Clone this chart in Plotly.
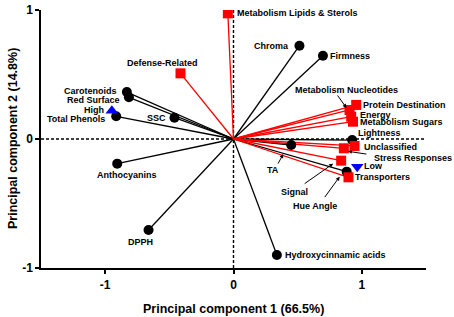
import plotly.graph_objects as go

# ---------------- data ----------------
black_names = ["Chroma", "Firmness", "Carotenoids", "Red Surface", "Total Phenols", "SSC",
               "Anthocyanins", "DPPH", "Hydroxycinnamic acids", "TA", "Lightness", "Hue Angle"]
black_pc1 = [0.514, 0.697, -0.831, -0.815, -0.914, -0.46, -0.906, -0.662, 0.338, 0.45, 0.925, 0.882]
black_pc2 = [0.723, 0.646, 0.364, 0.323, 0.176, 0.165, -0.191, -0.705, -0.899, -0.047, -0.008, -0.253]

red_names = ["Metabolism Lipids & Sterols", "Defense-Related", "Metabolism Nucleotides",
             "Protein Destination", "Energy", "Metabolism Sugars", "Unclassified",
             "Stress Responses", "Signal", "Transporters"]
red_pc1 = [-0.044, -0.413, 0.904, 0.956, 0.917, 0.931, 0.943, 0.86, 0.839, 0.896]
red_pc2 = [0.974, 0.509, 0.225, 0.264, 0.173, 0.134, -0.054, -0.072, -0.168, -0.297]

high_name, high_pc1, high_pc2 = "High", -0.948, 0.219
low_name, low_pc1, low_pc2 = "Low", 0.964, -0.215

x_ticks = [-1, 0, 1]
y_ticks = [-1, 0, 1]
x_title = "Principal component 1 (66.5%)"
y_title = "Principal component 2 (14.8%)"

# ---------------- label placement (pixels) ----------------
# name: (xanchor, xshift, yshift)
label_pos = {
    "Chroma": ("right", -8, 0),
    "Firmness": ("left", 5, 0),
    "Carotenoids": ("right", -8, 1),
    "Red Surface": ("right", -7, -3),
    "Total Phenols": ("right", -9, -3),
    "SSC": ("right", -6, 0),
    "Anthocyanins": ("center", 10, -11),
    "DPPH": ("center", -8, -12),
    "Hydroxycinnamic acids": ("left", 6, 0),
    "TA": ("center", -18, -25),
    "Lightness": ("left", 4, 7),
    "Hue Angle": ("center", -32, -34),
    "Metabolism Lipids & Sterols": ("left", 7, 0),
    "Defense-Related": ("center", -18, 10),
    "Metabolism Nucleotides": ("center", -3, 20),
    "Protein Destination": ("left", 5, 0),
    "Energy": ("left", 7, 2),
    "Metabolism Sugars": ("left", 5, 0),
    "Unclassified": ("left", 7, -1),
    "Stress Responses": ("left", 28, -10),
    "Signal": ("center", -47, -31),
    "Transporters": ("left", 5, 0),
    "High": ("right", -6, 1),
    "Low": ("left", 5, 1),
}
# name: (tip dx, tip dy, tail ax, tail ay) pixel offsets
arrow_pos = {
    "Metabolism Nucleotides": (-3, -2, -10, -14),
    "Stress Responses": (4, 3, 20, 3),
    "TA": (-8, 9, -6, 11),
    "Signal": (-8, 3, -30, 21),
    "Hue Angle": (-7, 5, -16, 22),
}

FONT = "Arial, Liberation Sans, sans-serif"

fig = go.Figure()


def spokes(xs, ys):
    lx, ly = [], []
    for a, b in zip(xs, ys):
        lx += [0, a, None]
        ly += [0, b, None]
    return lx, ly


bx, by = spokes(black_pc1, black_pc2)
rx, ry = spokes(red_pc1, red_pc2)
fig.add_trace(go.Scatter(x=bx, y=by, mode="lines", line=dict(color="black", width=1.3),
                         hoverinfo="skip", showlegend=False))
fig.add_trace(go.Scatter(x=rx, y=ry, mode="lines", line=dict(color="#ff0000", width=1.3),
                         hoverinfo="skip", showlegend=False))
fig.add_trace(go.Scatter(x=black_pc1, y=black_pc2, mode="markers", text=black_names,
                         marker=dict(symbol="circle", size=10, color="black"), showlegend=False))
fig.add_trace(go.Scatter(x=red_pc1, y=red_pc2, mode="markers", text=red_names,
                         marker=dict(symbol="square", size=10, color="#ff0000"), showlegend=False))
fig.add_trace(go.Scatter(x=[high_pc1], y=[high_pc2], mode="markers", text=[high_name],
                         marker=dict(symbol="triangle-up", size=11, color="#0000ff"), showlegend=False))
fig.add_trace(go.Scatter(x=[low_pc1], y=[low_pc2], mode="markers", text=[low_name],
                         marker=dict(symbol="triangle-down", size=11, color="#0000ff"), showlegend=False))

# dotted reference lines at zero
fig.add_shape(type="line", xref="x", yref="y", x0=-1.5, x1=1.5, y0=0, y1=0,
              line=dict(color="black", width=1.4, dash="3px,2px"), layer="below")
fig.add_shape(type="line", xref="x", yref="y", x0=0, x1=0, y0=-1, y1=1,
              line=dict(color="black", width=1.4, dash="3px,2px"), layer="below")

all_names = black_names + red_names + [high_name, low_name]
all_x = black_pc1 + red_pc1 + [high_pc1, low_pc1]
all_y = black_pc2 + red_pc2 + [high_pc2, low_pc2]
for n, px, py in zip(all_names, all_x, all_y):
    anc, dx, dy = label_pos[n]
    fig.add_annotation(x=px, y=py, text=n, showarrow=False, xanchor=anc, yanchor="middle",
                       xshift=dx, yshift=dy,
                       font=dict(family=FONT, size=9, color="black", weight="bold"))
    if n in arrow_pos:
        tdx, tdy, ax, ay = arrow_pos[n]
        fig.add_annotation(x=px, y=py, text="", showarrow=True, xshift=tdx, yshift=-tdy,
                           ax=ax, ay=ay, arrowhead=2, arrowsize=0.8, arrowwidth=1,
                           arrowcolor="black")

# axis titles
fig.add_annotation(xref="paper", yref="paper", x=0.5, y=0, yanchor="middle",
                   yshift=-41, text=x_title, showarrow=False,
                   font=dict(family=FONT, size=12.5, color="black", weight="bold"))
fig.add_annotation(xref="paper", yref="paper", x=0, y=0.5, xanchor="center",
                   xshift=-28, text=y_title, showarrow=False, textangle=-90,
                   font=dict(family=FONT, size=12.5, color="black", weight="bold"))

fig.update_xaxes(range=[-1.5, 1.5], tickvals=x_ticks, ticktext=[str(t) for t in x_ticks],
                 showgrid=False, zeroline=False, showline=True, linecolor="black", linewidth=1.5,
                 ticks="outside", ticklen=4, tickwidth=1.5, tickcolor="black", automargin=False,
                 ticklabelstandoff=1,
                 tickfont=dict(family=FONT, size=12, color="black", weight="bold"))
fig.update_yaxes(range=[-1, 1], tickvals=y_ticks, ticktext=[str(t) for t in y_ticks],
                 showgrid=False, zeroline=False, showline=True, linecolor="black", linewidth=1.5,
                 ticks="outside", ticklen=4, tickwidth=1.5, tickcolor="black", automargin=False,
                 tickfont=dict(family=FONT, size=12, color="black", weight="bold"))

fig.update_layout(width=454, height=317, margin=dict(l=41, r=28, t=10, b=49, autoexpand=False),
                  paper_bgcolor="white", plot_bgcolor="white", showlegend=False)

fig.write_html("out.html", config={"displayModeBar": False},
               post_script="document.body.style.margin='0';document.body.style.overflow='hidden';")
